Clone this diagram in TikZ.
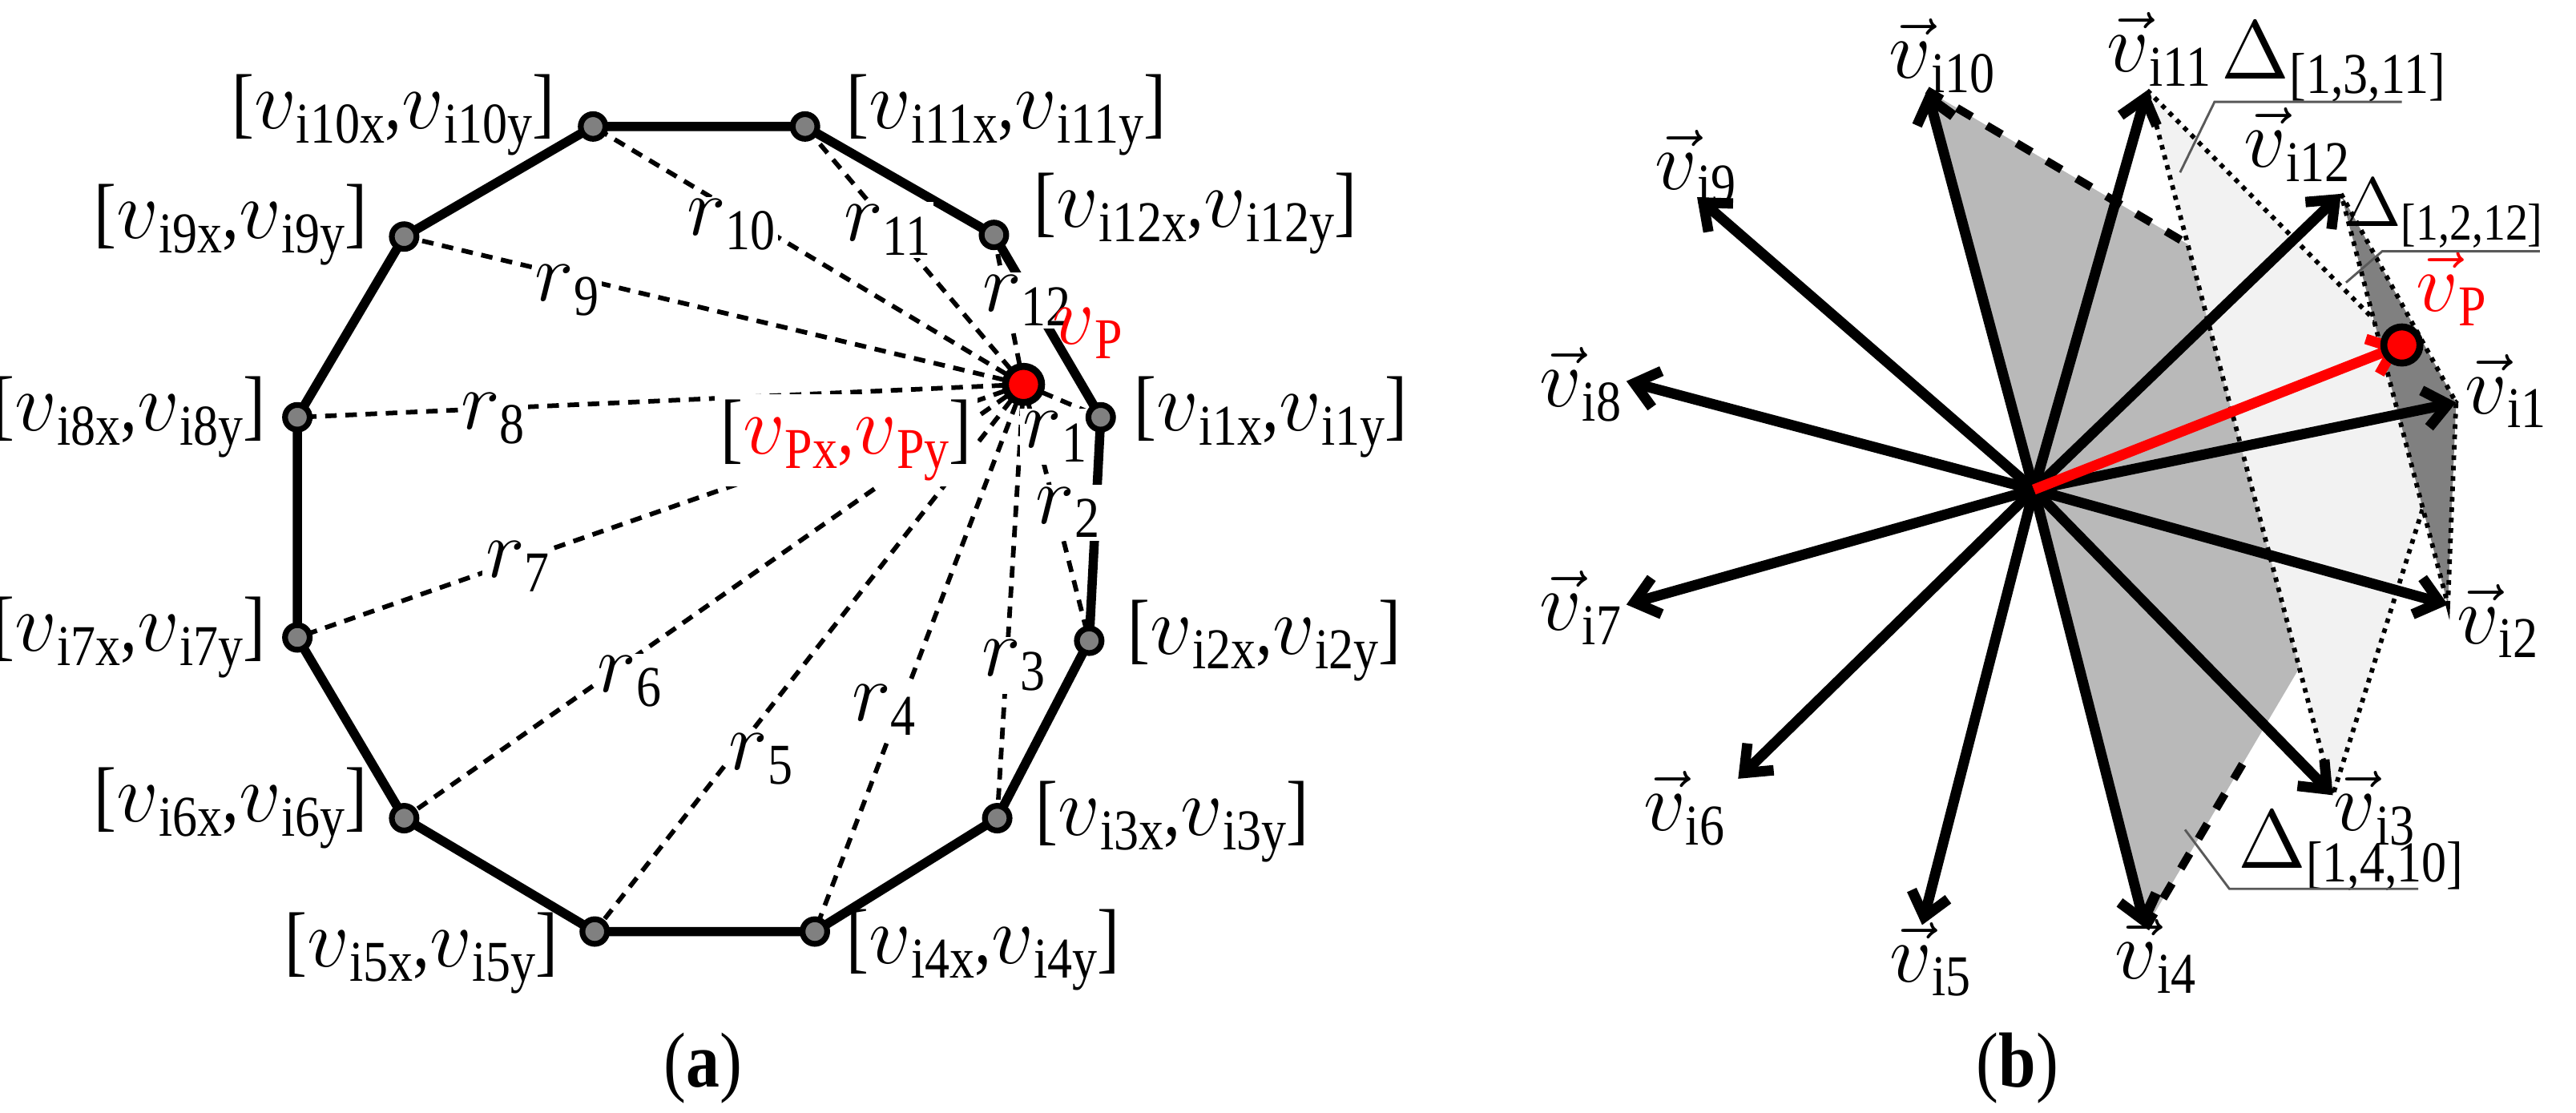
\documentclass[tikz,border=0pt]{standalone}
\usepackage{fontspec}
\setmainfont{Liberation Serif}[FakeStretch=0.86]
\usetikzlibrary{calc,arrows.meta}
\newcommand\sbx[1]{\raisebox{-0.4ex}{\fontsize{10}{10}\selectfont #1}}
\newcommand\vv[1]{$v$\sbx{#1}}
\newcommand\pv[2]{[\vv{#1},\vv{#2}]}
\newcommand\vecv[1]{$\vec{v}$\sbx{#1}}
\newcommand\rr[1]{$r$\sbx{#1}}
\newcommand\DD[1]{$\Delta$\sbx{#1}}
\newcommand\DDs[1]{$\Delta$\raisebox{-0.4ex}{\fontsize{9}{9}\selectfont #1}}
\begin{document}
\begin{tikzpicture}[x=0.01cm,y=-0.01cm,font=\fontsize{13.5}{15}\selectfont,
  vert/.style={circle,draw=black,fill=gray,line width=1pt,inner sep=0pt,minimum size=0.15cm},
  pdot/.style={circle,draw=black,fill=red,line width=1.2pt,inner sep=0pt,minimum size=0.22cm},
  edge/.style={line width=1.6pt},
  rad/.style={line width=0.8pt,dash pattern=on 2pt off 1.5pt},
  rlab/.style={fill=white,inner sep=0.5pt},
  arr/.style={-{Straight Barb[length=4pt,width=6.5pt]},line width=1.8pt},
  lead/.style={line width=0.4pt,gray!70!black}]
\useasboundingbox (0,0) rectangle (1568,677);
% ---------- (a)
\foreach \n/\x/\y in {1/670/254,2/663/390,3/607/498,4/496/567,5/362/567,6/246/498,7/181/388,8/181/254,9/246/144,10/361/77,11/490/77,12/605/143}
  \coordinate (a\n) at (\x,\y);
\coordinate (P) at (623,234);
\draw[edge] (a1)--(a2)--(a3)--(a4)--(a5)--(a6)--(a7)--(a8)--(a9)--(a10)--(a11)--(a12)--(a1);
\foreach \n in {1,...,12} \draw[rad] (P)--(a\n);
\foreach \n/\x/\y in {1/642/266,2/650/312,3/617/405,4/538/432,5/463/462,6/383/415,7/315/345,8/300/255,9/345/177,10/445/137,11/540/140,12/625/183}
  \node[rlab] (r\n) at (\x,\y) {\rr{\n}};
\foreach \n in {1,...,12} \node[vert] (va\n) at (a\n) {};
\node[pdot] (pa) at (P) {};
\node[red] (lvp) at (662,203) {\vv{P}};
\node[fill=white,inner sep=1pt] (lpxy) at (515,268) {[{\color{red}\vv{Px},\vv{Py}}]};
\node[anchor=west] (l1) at (678,254) {\pv{i1x}{i1y}};
\node[anchor=west] (l2) at (674,390) {\pv{i2x}{i2y}};
\node[anchor=west] (l3) at (618,500) {\pv{i3x}{i3y}};
\node[anchor=west] (l4) at (503,578) {\pv{i4x}{i4y}};
\node[anchor=east] (l5) at (352,580) {\pv{i5x}{i5y}};
\node[anchor=east] (l6) at (236,492) {\pv{i6x}{i6y}};
\node[anchor=east] (l7) at (174,388) {\pv{i7x}{i7y}};
\node[anchor=east] (l8) at (174,254) {\pv{i8x}{i8y}};
\node[anchor=east] (l9) at (236,137) {\pv{i9x}{i9y}};
\node[anchor=east] (l10) at (350,70) {\pv{i10x}{i10y}};
\node[anchor=west] (l11) at (503,70) {\pv{i11x}{i11y}};
\node[anchor=west] (l12) at (617,130) {\pv{i12x}{i12y}};
\node (capa) at (428,650) {(\textbf{a})};
% ---------- (b)
\coordinate (O) at (1238,298);
\foreach \n/\x/\y in {1/1495/245,2/1490/368,3/1420/484,4/1306/565,5/1170/563,6/1058/474,7/990/368,8/990/232,9/1033/120,10/1173/55,11/1307/55,12/1425/118}
  \coordinate (b\n) at (\x,\y);
\fill[gray!55] (O)--(b10)--(b1)--(b4)--cycle;
\fill[gray!10] (b11)--(b1)--(b3)--cycle;
\draw[densely dotted,line width=0.8pt] (b11)--(b1)--(b3)--cycle;
\draw[dashed,line width=1.4pt] (b10)--($(b10)!0.49!(b1)$);
\draw[dashed,line width=1.4pt] (b4)--($(b4)!0.32!(b1)$);
\fill[gray] (b12)--(b1)--(b2)--cycle;
\draw[densely dotted,line width=0.8pt] (b12)--(b1)--(b2)--cycle;
\foreach \n in {1,...,12} \draw[arr] (O)--(b\n);
\coordinate (VP) at (1462,210);
\draw[arr,red] (O)--(VP);
\node[pdot] (pb) at (VP) {};
\node[red] (lvpb) at (1492,176) {\vecv{P}};
\node (m1) at (1525,238) {\vecv{i1}};
\node (m2) at (1520,378) {\vecv{i2}};
\node (m3) at (1445,492) {\vecv{i3}};
\node (m4) at (1312,582) {\vecv{i4}};
\node (m5) at (1175,584) {\vecv{i5}};
\node (m6) at (1025,492) {\vecv{i6}};
\node (m7) at (962,370) {\vecv{i7}};
\node (m8) at (962,234) {\vecv{i8}};
\node (m9) at (1032,102) {\vecv{i9}};
\node (m10) at (1182,34) {\vecv{i10}};
\node (m11) at (1314,30) {\vecv{i11}};
\node (m12) at (1398,88) {\vecv{i12}};
\node[anchor=west] (d1) at (1340,38) {\DD{[1,3,11]}};
\draw[lead] (1327,105)--(1348,62)--(1462,62);
\node[anchor=east,inner sep=1pt,font=\fontsize{12.5}{14}\selectfont] (d2) at (1552,130) {\DDs{[1,2,12]}};
\draw[lead] (1428,172)--(1450,153)--(1546,153);
\node[anchor=west] (d3) at (1350,518) {\DD{[1,4,10]}};
\draw[lead] (1330,505)--(1357,541)--(1472,541);
\node (capb) at (1228,650) {(\textbf{b})};
\end{tikzpicture}
\end{document}
